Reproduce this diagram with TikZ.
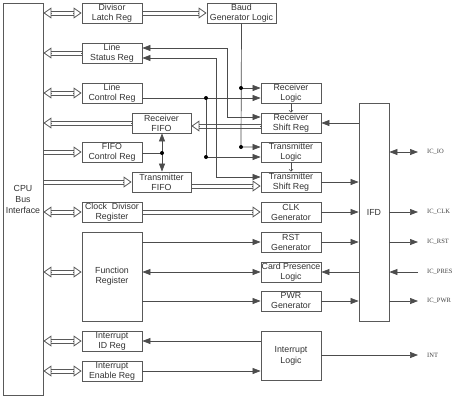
\documentclass[tikz,border=0pt]{standalone}
\usepackage{fontspec}
\setmainfont{Liberation Sans}
\newfontfamily\sigfont{Liberation Serif}
\usetikzlibrary{arrows.meta}
\newcommand\busR[2]{%
  \draw[bustip] #1 -- #2;
  \draw[buscover, shorten >=8.4pt, shorten <=0.5pt] #1 -- #2;
  \draw[busedge, shorten >=8pt, transform canvas={yshift=2pt}] #1 -- #2;
  \draw[busedge, shorten >=8pt, transform canvas={yshift=-2pt}] #1 -- #2;}
\newcommand\busB[2]{%
  \draw[bustipb] #1 -- #2;
  \draw[buscover, shorten >=8.4pt, shorten <=8.4pt] #1 -- #2;
  \draw[busedge, shorten >=8pt, shorten <=8pt, transform canvas={yshift=2pt}] #1 -- #2;
  \draw[busedge, shorten >=8pt, shorten <=8pt, transform canvas={yshift=-2pt}] #1 -- #2;}
\begin{document}
\begin{tikzpicture}[x=1pt,y=-1pt,
  box/.style={draw=black!65, line width=0.8pt, fill=white, inner sep=0pt, align=center, text=black!80, font=\fontsize{8.8}{10}\selectfont, minimum width=60pt, minimum height=20pt},
  wire/.style={draw=black!70, line width=0.7pt},
  arr/.style={wire, -{Triangle[length=8pt,width=6pt]}},
  arrs/.style={wire, {Triangle[length=8pt,width=6pt]}-{Triangle[length=8pt,width=6pt]}},
  busedge/.style={draw=black!65, line width=0.9pt},
  buscover/.style={draw=white, line width=3.2pt},
  bustip/.style={draw=black!65, line width=0.8pt, -{Triangle[fill=white,length=8pt,width=11pt]}},
  bustipb/.style={draw=black!65, line width=0.8pt, {Triangle[fill=white,length=8pt,width=11pt]}-{Triangle[fill=white,length=8pt,width=11pt]}},
  small/.style={wire, line width=0.5pt, -{Straight Barb[length=2pt,width=4pt]}},
  sig/.style={anchor=west, inner xsep=9pt, inner ysep=1pt, font=\sigfont\fontsize{6.5}{7}\selectfont, text=black!75},
]
\fill[white] (0,0) rectangle (462,400);
\useasboundingbox (0,0) rectangle (462,400);

% left column
\node[box, minimum width=40pt, minimum height=392pt, font=\fontsize{8.8}{11}\selectfont] (cpu) at (23,199) {CPU\\Bus\\Interface};
\node[box] (dlr) at (112,13) {Divisor\\Latch Reg};
\node[box, minimum width=69pt] (baud) at (241.5,13) {Baud\\Generator Logic};
\node[box] (lsr) at (112,53) {Line\\Status Reg};
\node[box] (lcr) at (112,93) {Line\\Control Reg};
\node[box, minimum width=59pt] (rfifo) at (161.5,123) {Receiver\\FIFO};
\node[box] (fcr) at (112,152) {FIFO\\Control Reg};
\node[box, minimum width=59pt] (tfifo) at (161.5,182) {Transmitter\\FIFO};
\node[box] (cdr) at (112,212) {Clock\ \ Divisor\\Register};
\node[box, minimum height=89pt] (fr) at (112,276.5) {Function\\Register};
\node[box] (iid) at (112,341) {Interrupt\\ID Reg};
\node[box] (ien) at (112,371) {Interrupt\\Enable Reg};

% right column
\node[box] (rl) at (291,93) {Receiver\\Logic};
\node[box] (rsr) at (291,123) {Receiver\\Shift Reg};
\node[box] (tl) at (291,152) {Transmitter\\Logic};
\node[box] (tsr) at (291,182) {Transmitter\\Shift Reg};
\node[box] (clk) at (291,212) {CLK\\Generator};
\node[box] (rst) at (291,242) {RST\\Generator};
\node[box] (cpl) at (291,272) {Card Presence\\Logic};
\node[box] (pwr) at (291,301) {PWR\\Generator};
\node[box, minimum height=49pt, font=\fontsize{8.8}{11}\selectfont] (il) at (291,355.5) {Interrupt\\Logic};
\node[box, minimum width=30pt, minimum height=218pt] (ifd) at (374,212) {IFD};

% signal labels
\node[sig] (ioL) at (418,152) {IC\_IO};
\node[sig] (clkL) at (418,212) {IC\_CLK};
\node[sig] (rstL) at (418,242) {IC\_RST};
\node[sig] (presL) at (418,272) {IC\_PRES};
\node[sig] (pwrL) at (418,301) {IC\_PWR};
\node[sig] (intL) at (418,355) {INT};

% junctions
\coordinate (b1) at (241,88);
\coordinate (b2) at (241,147);
\coordinate (c1) at (206,98);
\coordinate (c2) at (206,157);
\coordinate (f1) at (162,153);

% buses
\busB{(cpu.east|-dlr.west)}{(dlr.west)}
\busR{(dlr.east)}{(baud.west)}
\busR{(lsr.west)}{(cpu.east|-lsr.west)}
\busB{(cpu.east|-lcr.west)}{(lcr.west)}
\busR{(rfifo.west)}{(cpu.east|-rfifo.west)}
\busR{(cpu.east|-fcr.west)}{(fcr.west)}
\busR{(cpu.east|-tfifo.west)}{(tfifo.west)}
\busB{(cpu.east|-cdr.west)}{(cdr.west)}
\busB{(cpu.east|-0,272)}{(fr.west|-0,272)}
\busB{(cpu.east|-iid.west)}{(iid.west)}
\busB{(cpu.east|-ien.west)}{(ien.west)}
\busR{(rsr.west|-0,126)}{(rfifo.east|-0,126)}
\busR{(tfifo.east|-0,186)}{(tsr.west|-0,186)}
\busR{(cdr.east)}{(clk.west)}

% status / control wires
\draw[arrs] (lsr.east|-0,48) -| (227,117) -- (rsr.west|-0,117);
\draw[arrs] (lsr.east|-0,58) -| (216,177) -- (tsr.west|-0,177);
\draw[arr] (baud.south) -- (b2) -- (tl.west|-b2);
\draw[arr] (b1) -- (rl.west|-b1);
\draw[arr] (lcr.east|-c1) -- (rl.west|-c1);
\draw[arr] (c1) -- (c2) -- (tl.west|-c2);
\draw[wire] (fcr.east|-f1) -- (f1);
\draw[arr] (f1) -- (rfifo.south-|f1);
\draw[arr] (f1) -- (tfifo.north-|f1);
\draw[small] (rl.south) -- (rsr.north);
\draw[small] (tl.south) -- (tsr.north);
\foreach \p in {b1,b2,c1,c2,f1} \fill[black] (\p) circle (2pt);

% to / from IFD
\draw[arr] (ifd.west|-0,123) -- (rsr.east|-0,123);
\draw[arr] (tsr.east) -- (ifd.west|-tsr.east);
\draw[arr] (clk.east) -- (ifd.west|-clk.east);
\draw[arr] (rst.east) -- (ifd.west|-rst.east);
\draw[arr] (ifd.west|-cpl.east) -- (cpl.east);
\draw[arr] (pwr.east) -- (ifd.west|-pwr.east);

% function register
\draw[arr] (fr.east|-rst.west) -- (rst.west);
\draw[arrs] (fr.east|-cpl.west) -- (cpl.west);
\draw[arr] (fr.east|-pwr.west) -- (pwr.west);

% interrupts
\draw[arr] (il.west|-iid.east) -- (iid.east);
\draw[arr] (ien.east) -- (il.west|-ien.east);
\draw[arr] (il.east|-intL.west) -- (intL.west);

% card signals
\draw[arrs] (ifd.east|-ioL.west) -- (ioL.west);
\draw[arr] (ifd.east|-clkL.west) -- (clkL.west);
\draw[arr] (ifd.east|-rstL.west) -- (rstL.west);
\draw[arr] (presL.west) -- (ifd.east|-presL.west);
\draw[arr] (ifd.east|-pwrL.west) -- (pwrL.west);
\end{tikzpicture}
\end{document}
